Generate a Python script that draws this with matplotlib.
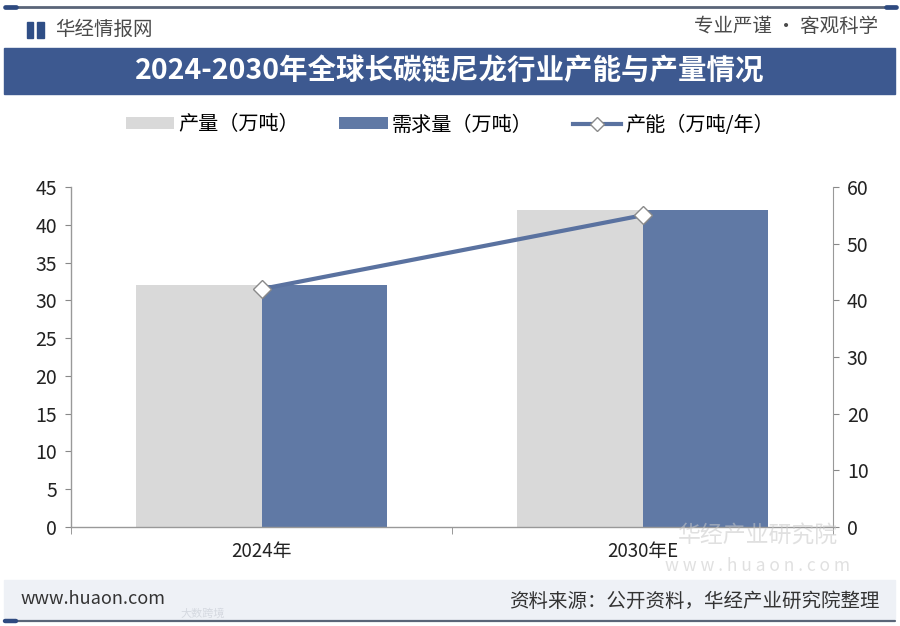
import matplotlib
matplotlib.use("Agg")
import matplotlib.pyplot as plt
from matplotlib.patches import Rectangle, Patch
from matplotlib.lines import Line2D
import numpy as np

plt.rcParams['font.family'] = ['Noto Sans CJK SC', 'DejaVu Sans']

categories = ['2024年', '2030年E']
production = [32, 42]      # 产量（万吨）
demand = [32, 42]          # 需求量（万吨）
capacity = [42, 55]        # 产能（万吨/年）
left_ticks = list(range(0, 50, 5))
right_ticks = list(range(0, 70, 10))

W, H = 900, 626
fig = plt.figure(figsize=(9, 6.26), dpi=100)
fig.patch.set_facecolor('white')

def fx(px):
    return px / W

def fy(py):
    return 1 - py / H

# top line
fig.add_artist(Line2D([fx(5), fx(895)], [fy(7), fy(7)], color='#5a6578', lw=2.0,
                      solid_capstyle='round'))
fig.add_artist(Line2D([fx(5), fx(16)], [fy(7), fy(7)], color='#2e4a80', lw=3.4,
                      solid_capstyle='round'))
fig.add_artist(Line2D([fx(886), fx(896)], [fy(7), fy(7)], color='#2e4a80', lw=3.4,
                      solid_capstyle='round'))
# header logo
fig.add_artist(Rectangle((fx(27), fy(38)), fx(6), 16 / H, color='#2f4e86'))
fig.add_artist(Rectangle((fx(37), fy(38)), fx(7), 16 / H, color='#2f4e86'))
fig.text(fx(55), fy(29), '华经情报网', fontsize=14, color='#4a4a4a', va='center', ha='left')
fig.text(fx(878), fy(27), '专业严谨 • 客观科学', fontsize=14, color='#4a4a4a', va='center', ha='right')

# title band
fig.add_artist(Rectangle((fx(4), fy(94)), fx(891), 46 / H, color='#3d5990'))
fig.text(0.5, fy(72), '2024-2030年全球长碳链尼龙行业产能与产量情况', fontsize=20.5,
         fontweight='bold', color='white', ha='center', va='center')

# bottom band
fig.add_artist(Rectangle((fx(4), fy(619)), fx(891), 39 / H, color='#eef1f6'))
fig.add_artist(Line2D([fx(5), fx(895)], [fy(621), fy(621)], color='#5a6578', lw=1.6,
                      solid_capstyle='round'))
fig.add_artist(Line2D([fx(5), fx(16)], [fy(621), fy(621)], color='#2e4a80', lw=3.2,
                      solid_capstyle='round'))
fig.text(fx(21), fy(599), 'www.huaon.com', fontsize=13, color='#333333', va='center', ha='left')
fig.text(fx(880), fy(601), '资料来源：公开资料，华经产业研究院整理', fontsize=14,
         color='#333333', va='center', ha='right')
fig.text(fx(180), fy(614), '大数跨境', fontsize=8, color='#d5d9e0', va='center', ha='left')

# axes
ax = fig.add_axes([fx(71), fy(527), fx(833 - 71), (527 - 187) / H])
ax.set_facecolor('none')
x = np.arange(len(categories))
w = 0.33
c_gray = '#d9d9d9'
c_blue = '#6079a5'
ax.bar(x - w / 2, production, width=w, color=c_gray, zorder=2)
ax.bar(x + w / 2, demand, width=w, color=c_blue, zorder=2)
ax.set_xlim(-0.5, len(categories) - 0.5)
ax.set_ylim(0, 45)
ax.set_yticks(left_ticks)
ax.set_xticks(x)
ax.set_xticklabels(categories)
ax.set_xticks(np.arange(-0.5, len(categories), 1.0), minor=True)
ax.tick_params(axis='x', which='major', length=0, pad=10, labelsize=13.5, labelcolor='#222222')
ax.tick_params(axis='x', which='minor', length=5, color='#888888', direction='out')
ax.tick_params(axis='y', length=4, color='#888888', labelsize=14, labelcolor='#222222', pad=6)
for s in ['top', 'right']:
    ax.spines[s].set_visible(False)
for s in ['left', 'bottom']:
    ax.spines[s].set_color('#999999')
    ax.spines[s].set_linewidth(1)

ax2 = ax.twinx()
ax2.set_ylim(0, 60)
ax2.set_yticks(right_ticks)
ax2.plot(x, capacity, color='#5a72a0', lw=3, marker='D', markersize=9,
         markerfacecolor='white', markeredgecolor='#8a8a8a', markeredgewidth=1, zorder=5)
ax2.tick_params(axis='y', length=4, color='#888888', labelsize=14, labelcolor='#222222', pad=6)
for s in ['top', 'left', 'bottom']:
    ax2.spines[s].set_visible(False)
ax2.spines['right'].set_color('#999999')

# watermark
fig.text(fx(758), fy(536), '华经产业研究院', fontsize=16.5, color='#c8c8c8', alpha=0.55,
         ha='center', va='center', zorder=0)
fig.text(fx(758), fy(566), 'w w w . h u a o n . c o m', fontsize=12.5, color='#c8c8c8',
         alpha=0.55, ha='center', va='center', zorder=0)

# legend
handles = [
    Patch(facecolor=c_gray, edgecolor='none'),
    Patch(facecolor=c_blue, edgecolor='none'),
    Line2D([0], [0], color='#5a72a0', lw=3, marker='D', markersize=7,
           markerfacecolor='white', markeredgecolor='#8a8a8a'),
]
labels = ['产量（万吨）', '需求量（万吨）', '产能（万吨/年）']
fig.legend(handles, labels, loc='center', bbox_to_anchor=(0.5, fy(125)), ncol=3,
           frameon=False, fontsize=14.5, handlelength=2.4, handleheight=0.55,
           columnspacing=2.0, handletextpad=0.2)

fig.savefig('out.png', dpi=100, facecolor='white')
